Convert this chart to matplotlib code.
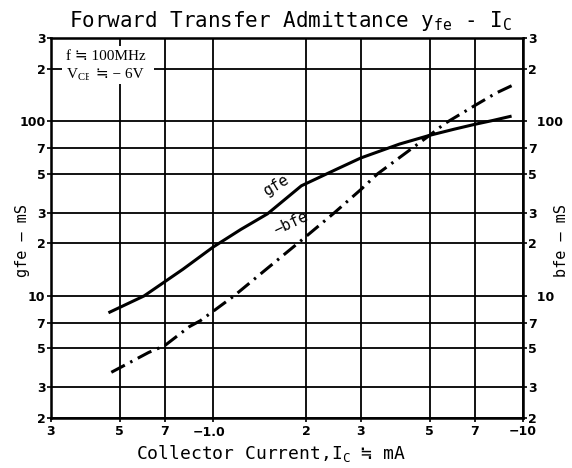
import matplotlib
matplotlib.use("Agg")
import matplotlib.pyplot as plt

# values (I_C in mA, admittance in mS)
ic_gfe = [0.46, 0.6, 0.8, 1.0, 1.23, 1.5, 1.93, 2.5, 3.0, 4.0, 5.0, 6.0, 7.0, 8.0, 9.2]
gfe = [8.0, 10.0, 14.2, 19.0, 24.0, 29.5, 42.7, 53.0, 61.6, 74.0, 83.0, 90.0, 96.0, 101.0, 107.0]

ic_bfe = [0.47, 0.62, 0.7, 0.84, 0.91, 1.17, 1.5, 1.93, 2.47, 3.0, 3.4, 4.2, 5.0, 5.6, 7.0, 8.2, 9.5]
bfe = [3.65, 4.74, 5.2, 6.67, 7.2, 10.0, 14.4, 20.8, 30.0, 40.6, 50.0, 66.0, 83.0, 97.0, 123.0, 145.0, 164.0]

x_ticks = [0.3, 0.5, 0.7, 1.0, 2, 3, 5, 7, 10]
x_labels = ["3", "5", "7", "", "2", "3", "5", "7", "\u221210"]
y_ticks = [2, 3, 5, 7, 10, 20, 30, 50, 70, 100, 200, 300]
y_labels = ["2", "3", "5", "7", "10", "2", "3", "5", "7", "100", "2", "3"]

mono = ["DejaVu Sans Mono", "DejaVu Sans"]
serif = ["Liberation Serif", "DejaVu Sans"]

fig = plt.figure(figsize=(5.72, 4.68), dpi=100)
ax = fig.add_axes([0.089, 0.107, 0.825, 0.812])
ax.set_xscale("log")
ax.set_yscale("log")
ax.set_xlim(0.3, 10)
ax.set_ylim(2, 300)

ax.minorticks_off()
ax.set_xticks(x_ticks)
ax.set_xticklabels(x_labels, fontsize=9, fontweight="bold")
ax.set_yticks(y_ticks)
ax.set_yticklabels(y_labels, fontsize=9, fontweight="bold")
ax.tick_params(length=3, width=1.2, pad=1)
ax.tick_params(axis="x", pad=2)
ax.grid(True, color="black", linewidth=1.3)
for s in ax.spines.values():
    s.set_linewidth(1.8)

ax.text(0.97, -0.022, "\u22121.0", transform=ax.get_xaxis_transform(),
        ha="center", va="top", fontsize=9, fontweight="bold")

# right-hand scale
ax2 = ax.twinx()
ax2.set_yscale("log")
ax2.set_ylim(2, 300)
ax2.minorticks_off()
ax2.set_yticks(y_ticks)
r_labels = [l if len(l) == 1 else "  " + l for l in y_labels]
ax2.set_yticklabels(r_labels, fontsize=9, fontweight="bold")
ax2.tick_params(length=3, width=1.2, pad=1)

ax.plot(ic_gfe, gfe, color="black", lw=2.2, solid_capstyle="butt")
ax.plot(ic_bfe, bfe, color="black", lw=2.2, linestyle=(0, (5, 2, 0.8, 2)))

ax.text(1.6, 43, "gfe", fontfamily=mono, fontsize=11, rotation=31,
        ha="center", va="center")
ax.text(1.78, 26, "\u2212bfe", fontfamily=mono, fontsize=11, rotation=25,
        ha="center", va="center")

# condition box (white background hides the grid behind it)
t1 = ax.text(0.335, 255, "f \u2252 100MHz", fontfamily=serif, fontsize=11,
             va="top", ha="left",
             bbox=dict(facecolor="white", edgecolor="none", pad=3))
t2 = ax.text(0.335, 205, "V$_\\mathregular{CE}$", fontfamily="Liberation Serif",
             fontsize=11, va="top", ha="left",
             bbox=dict(facecolor="white", edgecolor="none", pad=3))
ax.annotate(" \u2252 \u2212 6V  ", xy=(1, 0.32), xycoords=t2, fontfamily=serif,
            fontsize=11, va="baseline", ha="left",
            bbox=dict(facecolor="white", edgecolor="none", pad=2))

fig.text(0.12, 0.955, "Forward Transfer Admittance y$_\\mathregular{fe}$ - I$_\\mathregular{C}$",
         fontfamily="DejaVu Sans Mono", fontsize=15, ha="left", va="center")
fig.text(0.473, 0.032, "Collector Current,I$_\\mathregular{C}$ \u2252 mA",
         fontfamily="DejaVu Sans Mono", fontsize=13, ha="center", va="center")
fig.text(0.04, 0.487, "gfe \u2014 mS", fontfamily=mono, fontsize=11,
         rotation=90, ha="center", va="center")
fig.text(0.982, 0.487, "bfe \u2014 mS", fontfamily=mono, fontsize=11,
         rotation=90, ha="center", va="center")

fig.savefig("out.png", dpi=100)
